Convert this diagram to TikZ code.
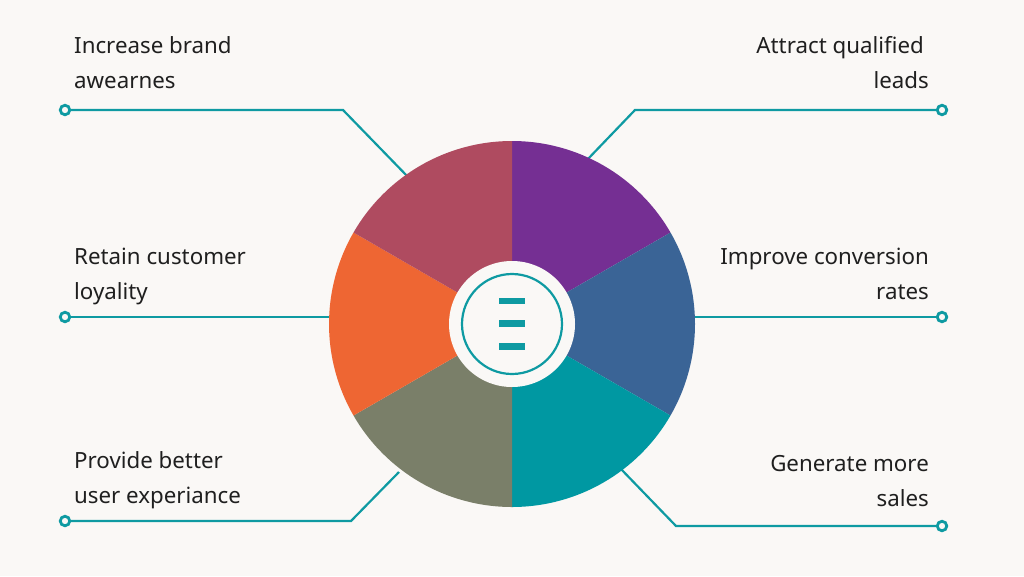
\documentclass[tikz,border=0pt]{standalone}
\usepackage{fontspec}
\setmainfont{Noto Sans}
\definecolor{bg}{HTML}{FAF8F6}
\definecolor{teal}{HTML}{0E9AA2}
\definecolor{cpurple}{HTML}{752F93}
\definecolor{cblue}{HTML}{3A6496}
\definecolor{cteal}{HTML}{0098A2}
\definecolor{cgrey}{HTML}{7A7F69}
\definecolor{corange}{HTML}{EE6633}
\definecolor{crose}{HTML}{AF4B60}
\tikzset{
 x=1pt,y=-1pt,
 line/.style={draw=teal,line width=2.2pt},
 dotn/.style={circle,draw=teal,line width=2.8pt,fill=bg,minimum size=9.5pt,inner sep=0pt},
 lab/.style={font=\fontsize{22.3}{35}\selectfont,text=black!88,inner sep=0pt},
 llab/.style={lab,anchor=west,align=left},
 rlab/.style={lab,anchor=east,align=right},
 bar/.style={fill=teal,draw=none}
}
\begin{document}
\begin{tikzpicture}
\useasboundingbox (0,0) rectangle (1024,576);
\fill[bg] (0,0) rectangle (1024,576);
\coordinate (c) at (512,324);
\coordinate (ul) at (410,179);
\coordinate (ur) at (586,161);
\coordinate (ml) at (335,317);
\coordinate (mr) at (690,317);
\coordinate (bl) at (399,472);
\coordinate (br) at (619,467);
\node[dotn] (d1) at (65,110) {};
\node[dotn] (d2) at (942,110) {};
\node[dotn] (d3) at (65,317) {};
\node[dotn] (d4) at (942,317) {};
\node[dotn] (d5) at (65,521) {};
\node[dotn] (d6) at (942,526) {};
\draw[line] (d1) -- (343,110) -- (ul);
\draw[line] (d2) -- (635,110) -- (ur);
\draw[line] (d3) -- (ml);
\draw[line] (d4) -- (mr);
\draw[line] (d5) -- (351,521) -- (bl);
\draw[line] (d6) -- (676,526) -- (br);
\foreach \a/\col in {-90/cpurple,-30/cblue,30/cteal,90/cgrey,150/corange,210/crose}{
 \fill[\col] (c) -- ([shift={(\a:183)}]c) arc[start angle=\a,delta angle=60,radius=183] -- cycle;
}
\node[circle,fill=bg,minimum size=126pt,inner sep=0pt] (hub) at (c) {};
\node[circle,draw=teal,line width=2.2pt,minimum size=100pt,inner sep=0pt] (ring) at (c) {};
\node[bar,minimum width=26pt,minimum height=6.8pt,inner sep=0pt] (b1) at (512,301) {};
\node[bar,minimum width=26pt,minimum height=6.8pt,inner sep=0pt] (b2) at (512,323.5) {};
\node[bar,minimum width=26pt,minimum height=6.8pt,inner sep=0pt] (b3) at (512,346.8) {};
\node[llab] (t1) at (74,63) {Increase brand\\awearnes};
\node[llab] (t3) at (74,276) {Retain customer\\loyality};
\node[llab] (t5) at (74,480) {Provide better\\user experiance};
\node[rlab] (t2) at (929,63) {Attract qualified\hspace*{5pt}\\leads};
\node[rlab] (t4) at (929,274) {Improve conversion\\rates};
\node[rlab] (t6) at (929,481) {Generate more\\sales};
\end{tikzpicture}
\end{document}
